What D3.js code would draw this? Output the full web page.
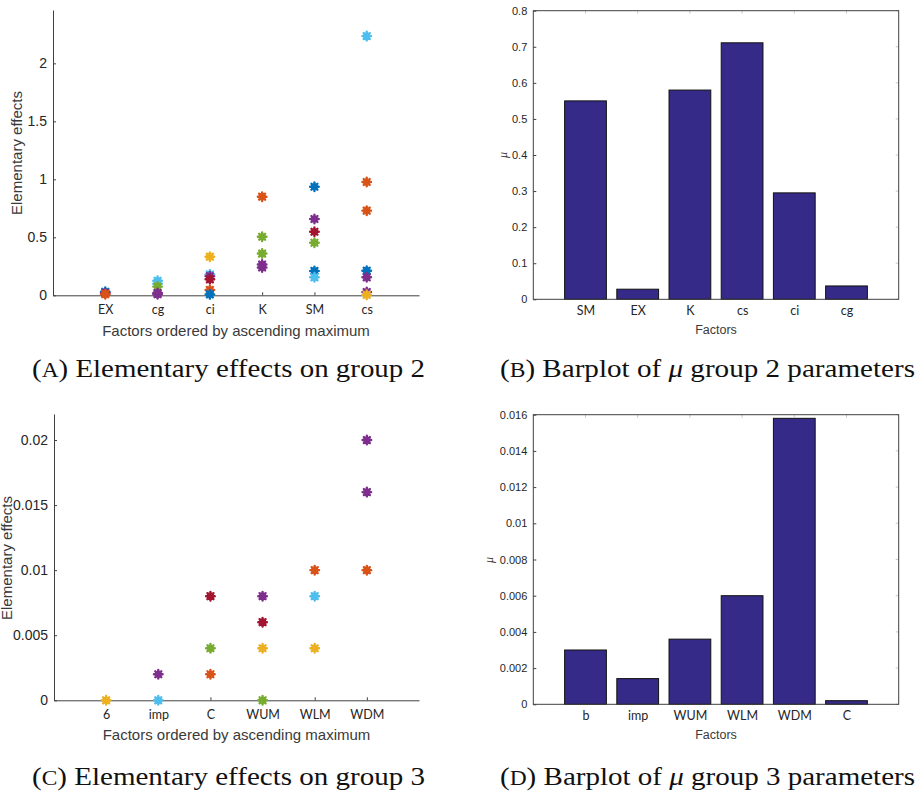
<!DOCTYPE html>
<html>
<head>
<meta charset="utf-8">
<script src="https://cdn.jsdelivr.net/npm/d3@7"></script>
<style>
  html, body { margin: 0; padding: 0; background: #fff; }
  svg { display: block; }
</style>
</head>
<body>
<svg id="fig" width="922" height="794"></svg>
<script>
// ---- Data -------------------------------------------------------------

// MATLAB default line colour order, used for the elementary-effect markers
const seriesColors = ["#0072BD", "#D95319", "#EDB120", "#7E2F8E", "#77AC30", "#4DBEEE", "#A2142F"];

// Group 2: factors ordered by ascending maximum elementary effect
const group2Factors = ["EX", "cg", "ci", "K", "SM", "cs"];
// [factor index, elementary effect, colour index]
const group2Effects = [
  [0, 0.03, 0], [0, 0.02, 3], [0, 0.01, 1],
  [1, 0.125, 5], [1, 0.10, 5], [1, 0.075, 4], [1, 0.02, 3], [1, 0.01, 3],
  [2, 0.333, 2], [2, 0.18, 5], [2, 0.165, 3], [2, 0.138, 6], [2, 0.046, 1], [2, 0.008, 0],
  [3, 0.85, 1], [3, 0.505, 4], [3, 0.36, 4], [3, 0.265, 3], [3, 0.24, 3],
  [4, 0.936, 0], [4, 0.658, 3], [4, 0.548, 6], [4, 0.453, 4], [4, 0.21, 0], [4, 0.155, 5],
  [5, 2.235, 5], [5, 0.977, 1], [5, 0.73, 1], [5, 0.212, 0], [5, 0.155, 3], [5, 0.028, 3], [5, 0.004, 2]
];
const group2EffectTicks = [0, 0.5, 1, 1.5, 2];

// Group 2: mean elementary effect per factor
const group2BarFactors = ["SM", "EX", "K", "cs", "ci", "cg"];
const group2Mu = [0.55, 0.028, 0.58, 0.711, 0.295, 0.037];
const group2MuTicks = [0, 0.1, 0.2, 0.3, 0.4, 0.5, 0.6, 0.7, 0.8];

// Group 3: factors ordered by ascending maximum elementary effect
const group3Factors = ["6", "imp", "C", "WUM", "WLM", "WDM"];
const group3Effects = [
  [0, 0, 2],
  [1, 0.002, 3], [1, 0, 5],
  [2, 0.008, 6], [2, 0.004, 4], [2, 0.002, 1],
  [3, 0.008, 3], [3, 0.006, 6], [3, 0.004, 2], [3, 0, 4],
  [4, 0.01, 1], [4, 0.008, 5], [4, 0.004, 2],
  [5, 0.02, 3], [5, 0.016, 3], [5, 0.01, 1]
];
const group3EffectTicks = [0, 0.005, 0.01, 0.015, 0.02];

// Group 3: mean elementary effect per factor
const group3BarFactors = ["b", "imp", "WUM", "WLM", "WDM", "C"];
const group3Mu = [0.003, 0.00142, 0.0036, 0.006, 0.0158, 0.0002];
const group3MuTicks = [0, 0.002, 0.004, 0.006, 0.008, 0.01, 0.012, 0.014, 0.016];

// ---- Drawing ----------------------------------------------------------

const svg = d3.select("#fig");
const AXIS = "#404040";
const TEXT = "#262626";
const SANS = "'Liberation Sans', Arial, sans-serif";
const LABELFONT = "Lato, 'Open Sans', sans-serif";
const SERIF = "'Liberation Serif', 'DejaVu Serif', serif";

function styleAxis(sel, size, family) {
  sel.select(".domain").attr("stroke", AXIS).attr("stroke-width", 1);
  sel.selectAll(".tick line").attr("stroke", AXIS);
  sel.selectAll(".tick text").attr("fill", TEXT).attr("font-size", size).attr("font-family", family);
}

// Elementary effects scatter: left and bottom axes only
function scatterPanel(o) {
  const g = svg.append("g");
  const x = d3.scaleLinear().domain([0, 7]).range([o.left, o.right]);
  const y = d3.scaleLinear().domain([0, o.yMax]).range([o.bottom, o.top]);

  const xa = g.append("g").attr("transform", `translate(0,${o.bottom})`)
    .call(d3.axisBottom(x).tickValues(d3.range(1, 7))
      .tickFormat(i => o.factors[i - 1]).tickSizeInner(-3).tickSizeOuter(0).tickPadding(10));
  styleAxis(xa, 12.5, LABELFONT);

  const ya = g.append("g").attr("transform", `translate(${o.left},0)`)
    .call(d3.axisLeft(y).tickValues(o.ticks).tickFormat(d => String(d))
      .tickSizeInner(-3).tickSizeOuter(0).tickPadding(6));
  styleAxis(ya, o.tickSize, SANS);

  // thick MATLAB-style '*' markers over a filled core
  const pts = g.append("g").selectAll("g").data(o.effects).join("g")
    .attr("transform", d => `translate(${x(d[0] + 1)},${y(d[1])})`);
  pts.append("circle").attr("r", 3.6).attr("fill", d => seriesColors[d[2]]);
  pts.append("path")
    .attr("d", "M-4.3,0H4.3M0,-4.3V4.3M-3,-3L3,3M-3,3L3,-3")
    .attr("stroke", d => seriesColors[d[2]]).attr("stroke-width", 2.4).attr("stroke-linecap", "round")
    .attr("fill", "none");

  g.append("text").attr("x", (o.left + o.right) / 2).attr("y", o.xLabelY)
    .attr("text-anchor", "middle").attr("font-family", SANS).attr("font-size", 15)
    .attr("fill", "#3a3a3a").text("Factors ordered by ascending maximum");
  g.append("text").attr("transform", `translate(${o.yLabelX},${o.yLabelY}) rotate(-90)`)
    .attr("text-anchor", "middle").attr("font-family", SANS).attr("font-size", 15)
    .attr("fill", "#3a3a3a").text("Elementary effects");
}

// Barplot of mu inside a full box
function barPanel(o) {
  const g = svg.append("g");
  const x = d3.scaleLinear().domain([0, 7]).range([o.left, o.right]);
  const y = d3.scaleLinear().domain([0, o.yMax]).range([o.bottom, o.top]);

  g.selectAll("rect.bar").data(o.values).join("rect").attr("class", "bar")
    .attr("x", (d, i) => x(i + 1 - 0.4)).attr("width", x(0.8) - x(0))
    .attr("y", d => y(d)).attr("height", d => y(0) - y(d))
    .attr("fill", "#352A87").attr("stroke", "#111").attr("stroke-width", 1);

  // mirrored ticks on the top and right edges
  g.append("g").selectAll("line").data(o.ticks).join("line")
    .attr("x1", o.right).attr("x2", o.right - 3).attr("y1", d => y(d)).attr("y2", d => y(d))
    .attr("stroke", "#c8c8c8");
  g.append("g").selectAll("line").data(d3.range(1, 7)).join("line")
    .attr("x1", d => x(d)).attr("x2", d => x(d)).attr("y1", o.top).attr("y2", o.top + 3)
    .attr("stroke", "#c8c8c8");

  g.append("rect").attr("x", o.left).attr("y", o.top)
    .attr("width", o.right - o.left).attr("height", o.bottom - o.top)
    .attr("fill", "none").attr("stroke", AXIS).attr("stroke-width", 1);

  const xa = g.append("g").attr("transform", `translate(0,${o.bottom})`)
    .call(d3.axisBottom(x).tickValues(d3.range(1, 7))
      .tickFormat(i => o.factors[i - 1]).tickSize(0).tickPadding(7));
  styleAxis(xa, 12.5, LABELFONT);
  xa.select(".domain").remove();

  const ya = g.append("g").attr("transform", `translate(${o.left},0)`)
    .call(d3.axisLeft(y).tickValues(o.ticks).tickFormat(d => String(d))
      .tickSizeInner(-3).tickSizeOuter(0).tickPadding(6));
  styleAxis(ya, 11, SANS);
  ya.select(".domain").remove();

  g.append("text").attr("x", (o.left + o.right) / 2).attr("y", o.xLabelY)
    .attr("text-anchor", "middle").attr("font-family", SANS).attr("font-size", 12.5)
    .attr("fill", "#3a3a3a").text("Factors");
  g.append("text").attr("transform", `translate(${o.muX},${o.muY}) rotate(-90)`)
    .attr("text-anchor", "middle").attr("font-family", SERIF).attr("font-style", "italic")
    .attr("font-size", 12).attr("fill", "#333").text("μ");
}

function caption(x, y, width, letter, parts) {
  const t = svg.append("text").attr("x", x).attr("y", y).attr("font-family", SERIF)
    .attr("font-size", 26).attr("fill", "#111")
    .attr("textLength", width).attr("lengthAdjust", "spacingAndGlyphs");
  t.append("tspan").text("(");
  t.append("tspan").attr("font-size", 21).text(letter);
  t.append("tspan").text(") ");
  parts.forEach(p => {
    const s = t.append("tspan").text(p.text);
    if (p.italic) s.attr("font-style", "italic");
  });
}

scatterPanel({ factors: group2Factors, effects: group2Effects, ticks: group2EffectTicks,
  yMax: 2.46, left: 53, right: 419, top: 10, bottom: 295.3, tickSize: 14,
  xLabelY: 336, yLabelX: 22, yLabelY: 153 });

barPanel({ factors: group2BarFactors, values: group2Mu, ticks: group2MuTicks, yMax: 0.8,
  left: 533.3, right: 898.7, top: 10.7, bottom: 299.3, xLabelY: 334, muX: 507, muY: 155 });

scatterPanel({ factors: group3Factors, effects: group3Effects, ticks: group3EffectTicks,
  yMax: 0.022, left: 54, right: 419, top: 414, bottom: 700.3, tickSize: 14,
  xLabelY: 740, yLabelX: 12, yLabelY: 558 });

barPanel({ factors: group3BarFactors, values: group3Mu, ticks: group3MuTicks, yMax: 0.016,
  left: 533.3, right: 898.7, top: 414.7, bottom: 704.3, xLabelY: 739, muX: 493, muY: 560 });

caption(32, 377, 393, "A", [{ text: "Elementary effects on group 2" }]);
caption(500, 377, 415, "B", [{ text: "Barplot of " }, { text: "μ", italic: true }, { text: " group 2 parameters" }]);
caption(32, 785, 393, "C", [{ text: "Elementary effects on group 3" }]);
caption(500, 785, 415, "D", [{ text: "Barplot of " }, { text: "μ", italic: true }, { text: " group 3 parameters" }]);
</script>
</body>
</html>
